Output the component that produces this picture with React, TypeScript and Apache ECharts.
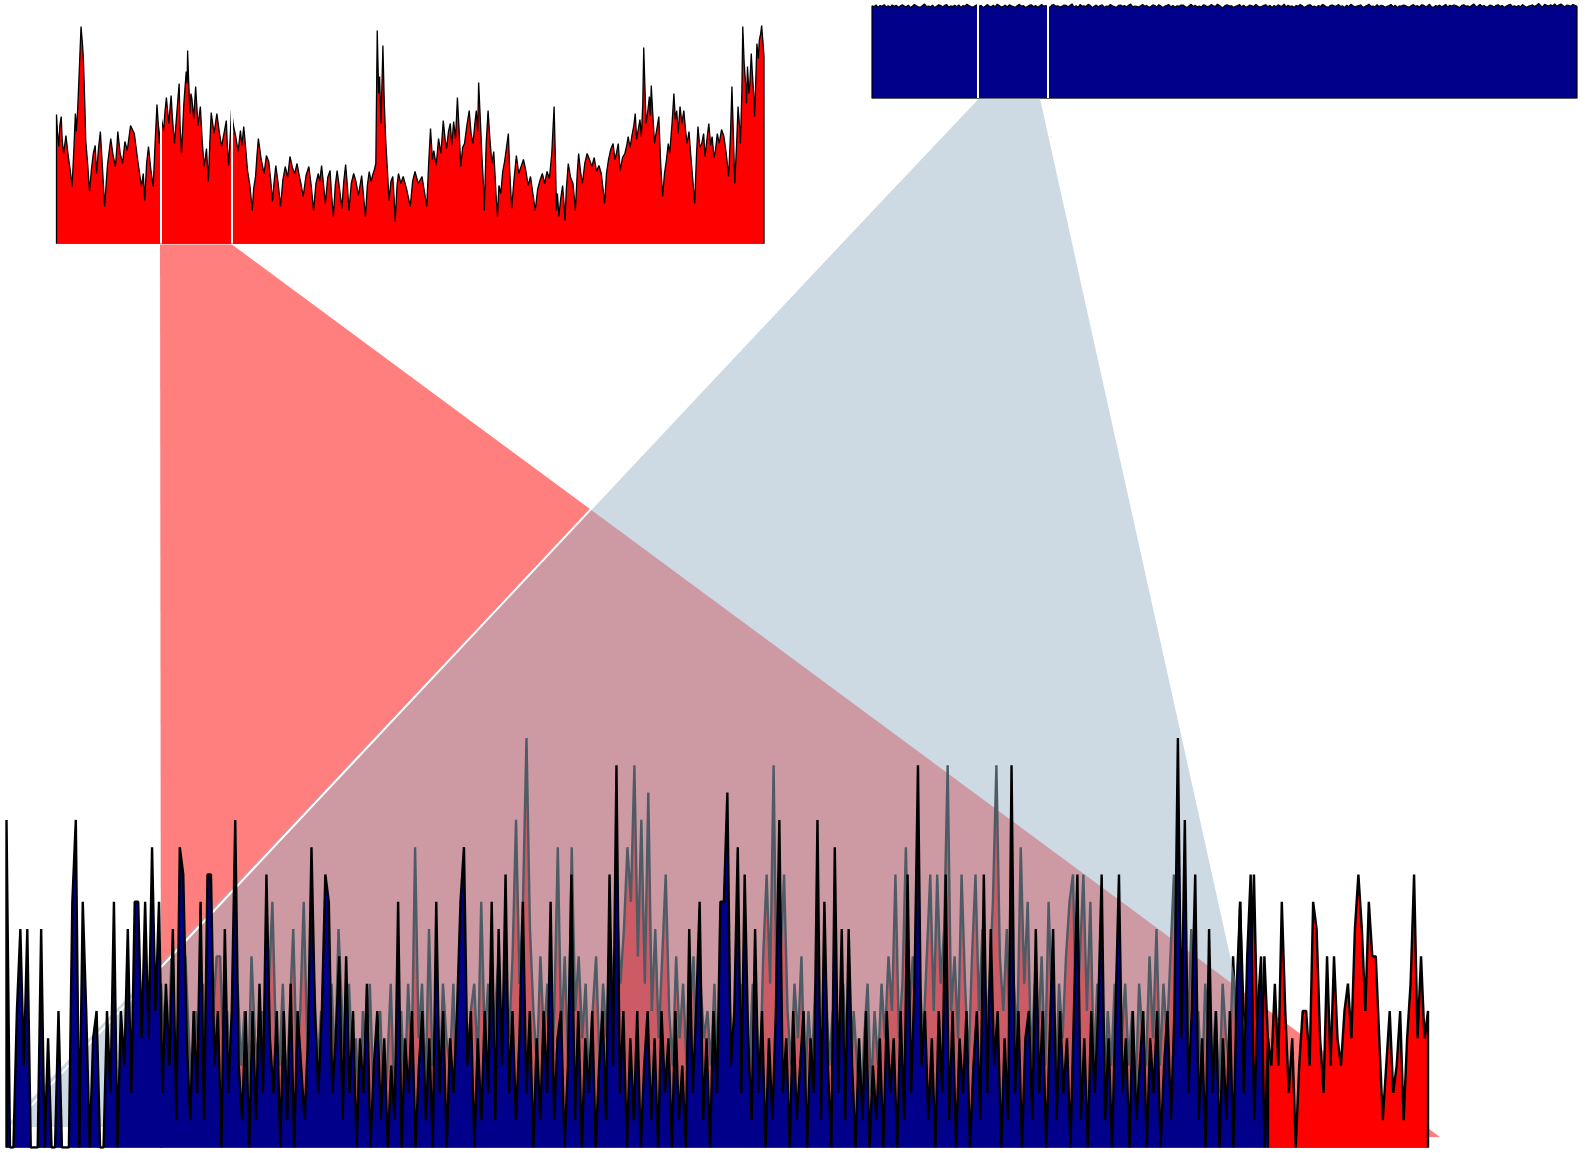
import React, { useEffect, useRef } from "react";
import * as echarts from "echarts";

// ---- Overview (top-left, red): [sample position, height value]
const overviewRed = [
  [0,129],[2,112],[5,97],[7,118],[10,127],[12,104],[15,90],[20,108],[25,87],[29,74],[33,57],[37,96],[40,130],[42,112],[45,135],[48,170],[52,217],[55,200],[57,185],[60,140],
  [62,103],[66,80],[70,52],[74,74],[78,90],[82,98],[85,70],[89,95],[93,112],[97,80],[102,37],[108,78],[115,105],[120,88],[125,77],[128,96],[130,112],[135,90],[140,80],[145,102],
  [150,93],[157,118],[165,110],[172,84],[180,57],[184,70],[187,43],[191,80],[195,97],[200,74],[205,57],[209,100],[213,139],[216,118],[218,100],[222,126],[227,113],[230,132],[233,146],[238,120],
  [243,148],[246,124],[250,100],[255,130],[260,160],[262,118],[265,90],[270,140],[275,172],[277,160],[278,193],[280,165],[283,130],[285,150],[287,145],[291,125],[295,157],[300,118],[305,137],[309,102],
  [313,77],[318,95],[322,62],[325,100],[328,131],[334,110],[340,130],[345,112],[350,97],[355,110],[360,123],[362,100],[365,78],[368,104],[371,133],[375,118],[380,107],[385,92],[390,113],[393,98],
  [397,117],[401,96],[405,73],[410,58],[415,33],[418,55],[422,67],[425,88],[428,105],[434,84],[440,70],[445,88],[450,82],[454,64],[458,42],[461,60],[465,78],[470,60],[475,37],[480,64],
  [485,77],[490,66],[495,87],[500,76],[505,70],[510,80],[515,67],[519,58],[523,47],[529,68],[535,77],[540,58],[545,33],[550,60],[555,70],[558,62],[562,78],[566,60],[570,40],[575,66],
  [580,73],[583,50],[587,27],[591,58],[595,73],[600,55],[605,35],[609,62],[613,79],[617,56],[620,33],[625,60],[630,70],[635,62],[640,48],[647,68],[655,27],[659,58],[663,72],[667,62],
  [670,68],[674,74],[677,80],[680,213],[683,150],[685,167],[688,120],[692,198],[695,140],[698,103],[702,70],[705,43],[709,62],[713,67],[716,44],[718,22],[722,58],[725,70],[730,60],[735,67],
  [742,55],[750,37],[755,62],[760,72],[767,60],[775,67],[780,52],[785,37],[789,80],[793,115],[797,84],[800,93],[805,78],[810,105],[815,90],[820,123],[824,104],[827,95],[831,112],[835,120],
  [838,98],[842,122],[846,105],[850,146],[854,110],[857,77],[861,96],[865,100],[870,118],[875,133],[879,110],[883,100],[887,120],[890,133],[893,112],[895,161],[899,120],[902,87],[905,60],[907,33],
  [911,100],[915,133],[919,104],[923,80],[927,92],[930,67],[932,48],[935,27],[938,58],[942,50],[946,72],[950,82],[954,96],[958,110],[961,72],[965,35],[970,64],[975,88],[980,70],[985,77],
  [990,84],[995,73],[1000,58],[1005,67],[1010,50],[1015,33],[1020,54],[1025,63],[1030,70],[1035,60],[1040,72],[1045,65],[1050,90],[1055,137],[1058,80],[1060,33],[1062,50],[1065,27],[1069,45],[1073,58],
  [1076,40],[1078,23],[1081,55],[1085,80],[1090,66],[1095,60],[1098,45],[1100,33],[1104,70],[1107,90],[1111,72],[1115,60],[1120,80],[1125,90],[1130,84],[1135,77],[1140,86],[1145,72],[1150,78],[1155,70],
  [1158,58],[1162,40],[1166,70],[1170,83],[1175,94],[1180,100],[1184,84],[1187,90],[1191,100],[1195,73],[1200,86],[1205,90],[1209,98],[1212,107],[1216,96],[1220,108],[1224,118],[1227,130],[1230,104],[1233,113],
  [1237,124],[1240,107],[1243,140],[1245,196],[1248,150],[1250,120],[1254,134],[1257,147],[1259,128],[1261,158],[1263,140],[1265,123],[1268,100],[1270,107],[1274,118],[1277,127],[1281,80],[1285,47],[1289,70],[1293,83],
  [1297,100],[1300,90],[1305,120],[1309,150],[1312,124],[1315,133],[1318,110],[1322,137],[1326,120],[1330,133],[1334,112],[1337,100],[1341,112],[1345,87],[1349,64],[1353,40],[1357,90],[1360,117],[1364,96],[1368,100],
  [1372,110],[1375,87],[1379,104],[1383,120],[1387,98],[1390,107],[1394,86],[1397,93],[1401,110],[1405,100],[1410,114],[1415,107],[1420,90],[1425,67],[1429,110],[1432,157],[1435,110],[1438,60],[1442,100],[1445,137],
  [1448,118],[1450,100],[1453,150],[1455,217],[1458,180],[1461,160],[1463,140],[1465,177],[1468,150],[1470,160],[1473,190],[1475,173],[1478,150],[1480,127],[1483,170],[1485,200],[1488,185],[1490,203],[1493,210],[1495,218],
  [1498,200],[1500,187]
];
const overviewRedWindow = [220, 372];

// ---- Overview (top-right, navy)
const overviewBlueV = [
  92.1,91.4,93.0,90.6,92.5,91.8,93.4,91.0,92.2,90.9, 93.1,91.6,92.7,90.8,91.9,93.3,92.0,91.2,92.8,90.5,
  91.7,93.6,92.3,91.1,90.7,92.6,93.9,91.5,92.0,91.3, 92.9,90.4,91.8,93.2,92.4,91.0,92.7,93.5,90.9,92.1,
  91.6,92.8,91.2,93.0,90.6,92.3,91.9,93.7,92.5,91.4, 90.8,92.2,93.1,91.7,92.6,90.5,91.8,93.4,92.0,91.1,
  92.7,91.3,93.8,92.4,90.9,91.6,92.9,91.0,93.2,92.1, 91.5,90.7,92.5,93.6,91.9,92.3,90.6,91.4,92.8,93.1,
  91.2,92.6,90.8,92.0,93.5,91.7,92.4,91.1,90.5,92.9, 93.3,91.8,92.2,90.9,91.6,93.0,92.7,91.3,92.5,94.1,
  91.0,92.3,90.7,93.4,91.9,92.1,91.5,93.7,92.6,90.6, 91.8,92.9,91.2,92.4,93.2,90.8,92.0,91.6,93.5,92.2,
  91.4,90.5,92.7,93.0,91.7,92.5,91.1,92.8,93.9,91.3, 92.0,91.6,90.9,92.3,93.6,91.8,92.6,90.7,91.5,93.1,
  92.4,91.0,93.3,92.1,90.6,91.9,92.7,93.4,91.2,92.5, 90.8,92.2,91.7,93.0,92.9,91.4,90.5,92.3,93.7,91.6,
  92.8,91.1,92.0,90.9,93.2,92.6,91.3,91.8,93.5,92.1, 91.5,93.8,92.4,91.0,90.7,92.7,93.1,91.9,92.2,90.6,
  91.7,92.5,93.4,91.2,92.9,90.8,91.6,93.0,92.3,91.4, 93.6,92.0,90.9,91.8,92.6,93.3,91.1,92.7,90.5,92.4,
  91.3,93.1,92.2,91.6,93.9,91.0,92.8,91.5,92.1,90.7, 92.5,91.9,93.5,92.3,90.6,91.7,92.9,93.2,91.2,92.0,
  90.8,92.6,91.4,93.7,92.4,91.1,90.9,92.7,93.0,91.8, 92.2,93.4,91.6,92.1,90.5,92.8,91.3,93.6,92.5,91.0,
  91.9,92.3,93.1,90.7,91.5,92.6,93.8,91.7,92.0,91.2, 93.3,91.4,92.7,92.2,90.8,91.6,92.4,93.5,91.1,92.9,
  90.6,92.1,91.8,93.0,92.6,91.3,90.9,92.5,93.4,91.7, 92.3,91.0,93.2,92.8,91.5,92.0,93.7,91.2,90.7,92.4,
  91.6,92.9,91.1,92.2,93.6,90.8,92.7,91.9,93.1,92.5, 91.4,90.5,92.6,93.3,91.8,92.1,91.0,92.8,94.0,91.3,
  92.0,93.5,91.7,92.4,90.9,91.5,93.0,92.3,91.1,92.7, 93.2,91.6,92.5,90.6,91.9,92.9,93.8,91.4,92.2,91.0,
  92.6,91.2,93.4,92.0,90.7,91.8,92.4,93.1,91.5,92.8, 94.5,92.3,91.1,93.6,92.7,91.9,93.3,92.1,94.2,91.7,
  92.9,93.9,92.5,91.3,93.0,92.4,91.8,93.5,92.6,91.6
];
const overviewBlueWindowFrac = [0.1496, 0.249];

// ---- Detail (bottom, red) daily counts
const detailRed = [
  6,4,3,7,2,5,3,7,4,2, 5,3,6,2,4,5,7,7,3,5, 2,4,6,3,5,2,7,4,3,5, 2,6,9,4,3,6,2,5,8,3,
  5,9,4,2,6,3,5,1,4,6, 3,8,5,2,6,3,4,1,5,3, 6,2,4,5,1,3,6,2,4,5, 2,6,3,11,4,6,2,8,3,5,
  2,6,4,3,6,1,4,7,3,5, 6,3,9,4,6,2,5,7,3,6, 4,7,12,6,9,15,8,5,3,7, 4,6,2,5,11,4,7,3,11,5,
  7,4,6,2,5,7,3,6,4,8, 5,9,6,8,11,9,14,7,12,6, 13,5,8,4,7,10,5,3,7,4, 6,3,5,7,2,6,4,5,3,6,
  2,5,4,7,3,5,2,6,4,3, 6,5,2,7,10,6,14,4,7,10, 5,3,6,4,7,2,5,3,6,1, 4,6,3,5,2,4,6,3,2,5,
  3,1,4,6,2,5,3,6,4,7, 5,10,4,6,11,5,7,3,6,4, 7,10,5,10,6,8,14,5,7,4, 10,6,3,7,10,5,8,4,6,9,
  14,7,5,8,3,6,4,11,6,9, 3,6,4,7,3,9,5,2,6,4, 7,9,10,4,7,10,5,9,3,6, 4,2,5,3,6,2,4,6,3,5,
  2,6,4,3,7,4,8,3,6,4, 7,10,5,3,6,4,8,3,5,2, 6,4,3,5,2,6,4,3,7,4, 9,5,3,6,10,4,2,7,4,3,
  6,3,9,5,2,4,0,3,5,5, 3,9,8,4,2,7,3,7,4,3, 5,6,4,8,10,8,5,9,7,7, 4,1,3,5,2,3,5,1,4,6,
  10,4,7,4,5
];

// ---- Detail (bottom, navy) daily counts
const detailBlue = [
  12,0,0,5,8,3,8,0,0,0, 8,0,4,0,0,5,0,0,0,9, 12,0,9,5,0,4,5,0,0,5, 2,9,0,5,3,8,2,9,9,4,
  9,4,11,5,9,2,6,3,8,1, 11,10,4,1,5,2,9,1,10,10, 3,5,0,8,2,5,12,3,1,5, 0,5,1,6,2,10,4,2,5,0,
  5,1,6,0,5,3,1,4,11,5, 2,5,10,9,2,4,7,1,7,2, 5,0,4,2,6,0,3,5,1,4, 0,3,1,9,0,4,2,5,0,3,
  5,1,4,0,9,2,5,0,4,2, 5,9,11,3,5,0,4,1,5,2, 9,1,8,3,10,2,5,1,4,9, 2,5,0,4,1,5,2,9,1,4,
  5,0,3,10,1,5,0,4,2,5, 0,3,5,1,10,3,14,2,5,0, 4,1,5,0,3,5,1,4,0,5, 2,4,0,5,1,3,0,8,2,5,
  9,1,4,0,5,2,9,9,13,3, 5,11,2,10,4,1,8,2,5,0, 4,1,5,12,2,4,0,5,1,3, 5,0,4,2,12,1,9,3,0,11,
  2,8,1,8,3,0,4,1,5,0, 3,1,4,0,5,2,4,0,5,1, 10,2,6,14,3,5,1,4,0,5, 2,10,1,5,0,4,2,5,0,3,
  5,1,10,2,8,3,5,0,4,1, 14,2,5,0,4,5,1,8,2,5, 0,4,8,1,5,2,4,0,5,10, 1,4,0,5,2,5,10,1,4,0,
  5,10,2,4,0,5,1,3,5,0, 4,2,5,0,3,5,1,5,15,4, 12,2,5,10,1,4,0,8,2,5, 0,4,1,5,0,6,9,2,7,10,
  1,5,7,0,4
];

const closePairs = (pts: number[][]) => [[pts[0][0], 0], ...pts, [pts[pts.length - 1][0], 0]];
const indexed = (ys: number[]) => ys.map((y, i) => [i, y]);

const xAxis = (gridIndex: number, min: number, max: number) => ({
  type: "value", gridIndex, min, max,
  axisLine: { show: true, onZero: false, lineStyle: { color: "#5a5a5a", width: 1.2 } },
  axisTick: { show: false }, axisLabel: { show: false }, splitLine: { show: false },
});
const yAxis = (gridIndex: number, max: number) => ({
  type: "value", gridIndex, min: 0, max,
  axisLine: { show: false }, axisTick: { show: false }, axisLabel: { show: false }, splitLine: { show: false },
});

const windowLines = (w: number[]) => ({
  silent: true, symbol: ["none", "none"], label: { show: false },
  lineStyle: { color: "#ffffff", width: 2, type: "solid" },
  data: [{ xAxis: w[0] }, { xAxis: w[1] }],
});

const area = (i: number, data: any[], fill: string, lw: number, z: number, extra: any = {}) => ({
  type: "line", xAxisIndex: i, yAxisIndex: i, data, symbol: "none", showSymbol: false,
  lineStyle: { color: "#000", width: lw }, areaStyle: { color: fill, opacity: 1 },
  z, silent: true, animation: false, ...extra,
});

export default function App() {
  const ref = useRef<HTMLDivElement>(null);
  useEffect(() => {
    const chart = echarts.init(ref.current!, null, { renderer: "svg" });
    const nB = overviewBlueV.length;
    const nD = detailBlue.length;
    const nC = detailRed.length;
    const blueWindow = overviewBlueWindowFrac.map((f) => f * (nB - 1));
    chart.setOption({
      animation: false,
      backgroundColor: "#ffffff",
      grid: [
        { left: 56.5, top: 25, width: 707.5, height: 218.5 },
        { left: 872, top: 3.5, width: 705, height: 94.5 },
        { left: 161, top: 738, width: 1267, height: 409.5 },
        { left: 6.5, top: 738, width: 1261.5, height: 409.5 },
      ],
      xAxis: [
        xAxis(0, 0, overviewRed[overviewRed.length - 1][0]),
        xAxis(1, 0, nB - 1),
        xAxis(2, 0, nC - 1),
        xAxis(3, 0, nD - 1),
      ],
      yAxis: [yAxis(0, 218.5), yAxis(1, 94.5), yAxis(2, 15), yAxis(3, 15)],
      series: [
        area(0, closePairs(overviewRed), "#ff0000", 1.3, 2, { markLine: windowLines(overviewRedWindow) }),
        area(1, closePairs(indexed(overviewBlueV)), "#00008b", 1.2, 2, { markLine: windowLines(blueWindow) }),
        area(2, closePairs(indexed(detailRed)), "#ff0000", 2.4, 3),
        area(3, closePairs(indexed(detailBlue)), "#00008b", 2.4, 7),
      ],
      graphic: [
        { type: "polygon", silent: true, z: 1,
          shape: { points: [[160, 244.5], [232, 244.5], [1440, 1137], [161, 1137]] },
          style: { fill: "rgba(255,0,0,0.5)" } },
        { type: "polygon", silent: true, z: 4,
          shape: { points: [[979, 98.5], [1040, 98.5], [1268, 1127], [5, 1127]] },
          style: { fill: "rgba(155,181,201,0.5)" } },
        { type: "line", silent: true, z: 5,
          shape: { x1: 975, y1: 100, x2: 11, y2: 1127 },
          style: { stroke: "#ffffff", lineWidth: 2 } },
        { type: "line", silent: true, z: 5,
          shape: { x1: 161, y1: 1134.5, x2: 1266, y2: 1134.5 },
          style: { stroke: "#ffffff", lineWidth: 1.5 } },
      ],
    });
    return () => chart.dispose();
  }, []);
  return (
    <div
      ref={ref}
      style={{ position: "fixed", left: 0, top: 0, width: 1585, height: 1153, background: "#fff" }}
    />
  );
}
